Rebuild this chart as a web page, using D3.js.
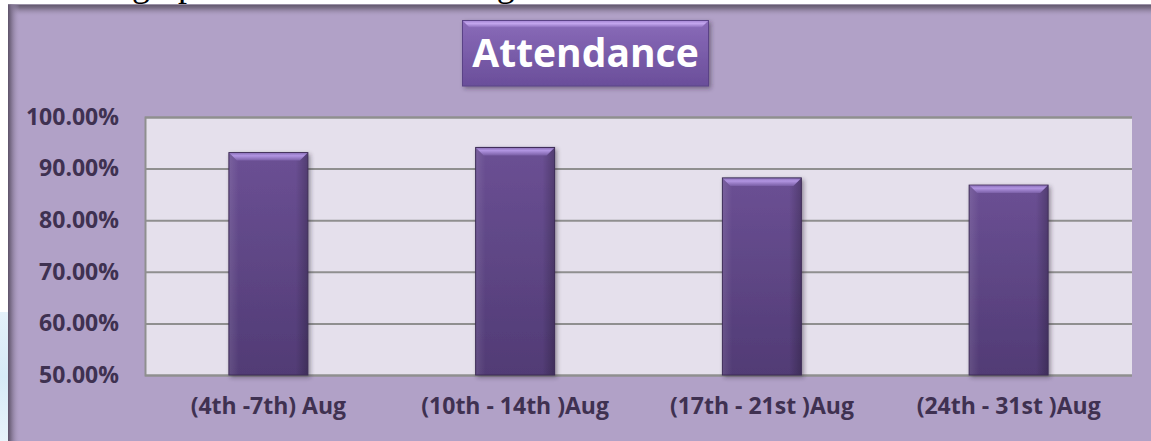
<!DOCTYPE html>
<html>
<head>
<meta charset="utf-8">
<script src="https://cdn.jsdelivr.net/npm/d3@7"></script>
<style>
html, body { margin: 0; padding: 0; background: #fff; overflow: hidden; }
svg { display: block; }
</style>
</head>
<body>
<script>
// chart values
const categories = ["(4th -7th) Aug", "(10th - 14th )Aug", "(17th - 21st )Aug", "(24th - 31st )Aug"];
const attendance = [0.931, 0.941, 0.882, 0.868];
const yTicks = [0.5, 0.6, 0.7, 0.8, 0.9, 1.0];
const chartTitle = "Attendance";
const pageLine = "Attendance graph of the month of August";

const W = 1151, H = 441;
const plot = {left: 145, right: 1132, top: 117, bottom: 375};
const textColor = "#3f3151";
const labelFont = "'Open Sans', 'DejaVu Sans', sans-serif";

const svg = d3.select("body").append("svg")
    .attr("width", W)
    .attr("height", H);

const defs = svg.append("defs");

function linGrad(id, x2, y2, stops) {
    const g = defs.append("linearGradient")
        .attr("id", id)
        .attr("x1", 0).attr("y1", 0)
        .attr("x2", x2).attr("y2", y2);
    stops.forEach(s => g.append("stop")
        .attr("offset", s[0])
        .attr("stop-color", s[1])
        .attr("stop-opacity", s[2] == null ? 1 : s[2]));
}

linGrad("leftEdge", 1, 0, [[0, "#5d5268"], [0.25, "#7d708c"], [1, "#b1a1c7", 0]]);
linGrad("topEdge", 0, 1, [[0, "#5f556b"], [0.3, "#7c7089"], [1, "#b1a1c7", 0]]);
linGrad("blueGlow", 0, 1, [[0, "#e4f1fa"], [0.5, "#d6eaf7"], [1, "#e8f3fb"]]);
linGrad("barBody", 0, 1, [[0, "#6b5094"], [1, "#513b75"]]);
linGrad("barSides", 1, 0, [[0, "#ffffff", 0.10], [0.12, "#ffffff", 0], [0.85, "#000000", 0], [1, "#000000", 0.22]]);
linGrad("barBevel", 0, 1, [[0, "#8f74bd"], [0.35, "#b295e2"], [1, "#7a5fa6"]]);
linGrad("titleBody", 0, 1, [[0, "#8a6bb9"], [1, "#6a4e9a"]]);
linGrad("titleBevel", 0, 1, [[0, "#a98ad8"], [0.4, "#c3a6ee"], [1, "#8a6cba"]]);

const shadow = defs.append("filter").attr("id", "shadow")
    .attr("x", "-10%").attr("y", "-10%").attr("width", "130%").attr("height", "130%");
shadow.append("feDropShadow")
    .attr("dx", 2).attr("dy", 2).attr("stdDeviation", 2)
    .attr("flood-color", "#2a2035").attr("flood-opacity", 0.45);

// page text cut off at the top
svg.append("text")
    .attr("x", -41)
    .attr("y", -4.3)
    .attr("font-family", "'Liberation Serif', serif")
    .attr("font-size", 36)
    .attr("fill", "#000")
    .text(pageLine);

// light blue page background at the lower left
svg.append("rect")
    .attr("x", 0).attr("y", 312)
    .attr("width", 9).attr("height", H - 312)
    .attr("fill", "url(#blueGlow)");

// chart panel
svg.append("rect")
    .attr("x", 8).attr("y", 4.5)
    .attr("width", W - 8).attr("height", H - 4.5)
    .attr("fill", "#b1a1c7");
svg.append("rect")
    .attr("x", 8).attr("y", 4.5)
    .attr("width", W - 8).attr("height", 12)
    .attr("fill", "url(#topEdge)");
svg.append("rect")
    .attr("x", 8).attr("y", 4.5)
    .attr("width", 12).attr("height", H - 4.5)
    .attr("fill", "url(#leftEdge)");

// scales
const x = d3.scaleBand()
    .domain(categories)
    .range([plot.left, plot.right])
    .paddingInner(0.68)
    .paddingOuter(0.34);

const y = d3.scaleLinear()
    .domain([0.5, 1.0])
    .range([plot.bottom, plot.top]);

// plot area
svg.append("rect")
    .attr("x", plot.left).attr("y", plot.top)
    .attr("width", plot.right - plot.left)
    .attr("height", plot.bottom - plot.top)
    .attr("fill", "#e5e0ec");

// gridlines
svg.append("g")
    .attr("transform", `translate(${plot.left},0)`)
    .call(d3.axisLeft(y).tickValues(yTicks).tickSize(-(plot.right - plot.left)).tickFormat(""))
    .call(g => g.select(".domain").attr("stroke", "#8f8f8f").attr("stroke-width", 2))
    .call(g => g.selectAll(".tick line").attr("stroke", "#8f8f8f").attr("stroke-width", 2));

// y axis labels
svg.append("g")
    .attr("transform", `translate(${plot.left},0)`)
    .call(d3.axisLeft(y).tickValues(yTicks).tickSize(0).tickPadding(26).tickFormat(d3.format(".2%")))
    .call(g => g.select(".domain").remove())
    .call(g => g.selectAll("text")
        .attr("fill", textColor)
        .attr("font-family", labelFont)
        .attr("font-weight", "bold")
        .attr("font-size", 23));

// x axis labels
svg.append("g")
    .attr("transform", `translate(0,${plot.bottom})`)
    .call(d3.axisBottom(x).tickSize(0).tickPadding(23))
    .call(g => g.select(".domain").remove())
    .call(g => g.selectAll("text")
        .attr("fill", textColor)
        .attr("font-family", labelFont)
        .attr("font-weight", "bold")
        .attr("font-size", 23));

// bars
const rows = categories.map((c, i) => ({cat: c, val: attendance[i]}));
const bw = x.bandwidth();
const bev = 8;

const bars = svg.append("g").selectAll("g")
    .data(rows)
    .join("g");

bars.append("rect")
    .attr("x", d => x(d.cat))
    .attr("y", d => y(d.val))
    .attr("width", bw)
    .attr("height", d => y(0.5) - y(d.val))
    .attr("fill", "url(#barBody)")
    .attr("stroke", "#3d2c56")
    .attr("stroke-width", 1)
    .attr("filter", "url(#shadow)");

bars.append("rect")
    .attr("x", d => x(d.cat) + 0.5)
    .attr("y", d => y(d.val) + 0.5)
    .attr("width", bw - 1)
    .attr("height", d => y(0.5) - y(d.val) - 1)
    .attr("fill", "url(#barSides)");

bars.append("polygon")
    .attr("points", d => {
        const x0 = x(d.cat), x1 = x0 + bw, t = y(d.val);
        return [[x0 + 0.5, t + 0.5], [x1 - 0.5, t + 0.5], [x1 - bev, t + bev], [x0 + bev, t + bev]].join(" ");
    })
    .attr("fill", "url(#barBevel)");

// title box
const tb = {x: 462.5, y: 20.5, w: 246, h: 65.5};
const title = svg.append("g");
title.append("rect")
    .attr("x", tb.x).attr("y", tb.y)
    .attr("width", tb.w).attr("height", tb.h)
    .attr("fill", "url(#titleBody)")
    .attr("stroke", "#5a4286")
    .attr("stroke-width", 1)
    .attr("filter", "url(#shadow)");
title.append("polygon")
    .attr("points", [[tb.x + 0.5, tb.y + 0.5], [tb.x + tb.w - 0.5, tb.y + 0.5],
                     [tb.x + tb.w - 7, tb.y + 7], [tb.x + 7, tb.y + 7]].join(" "))
    .attr("fill", "url(#titleBevel)");
title.append("text")
    .attr("x", tb.x + tb.w / 2)
    .attr("y", 67)
    .attr("text-anchor", "middle")
    .attr("fill", "#ffffff")
    .attr("font-family", labelFont)
    .attr("font-weight", "bold")
    .attr("font-size", 39)
    .text(chartTitle);
</script>
</body>
</html>
